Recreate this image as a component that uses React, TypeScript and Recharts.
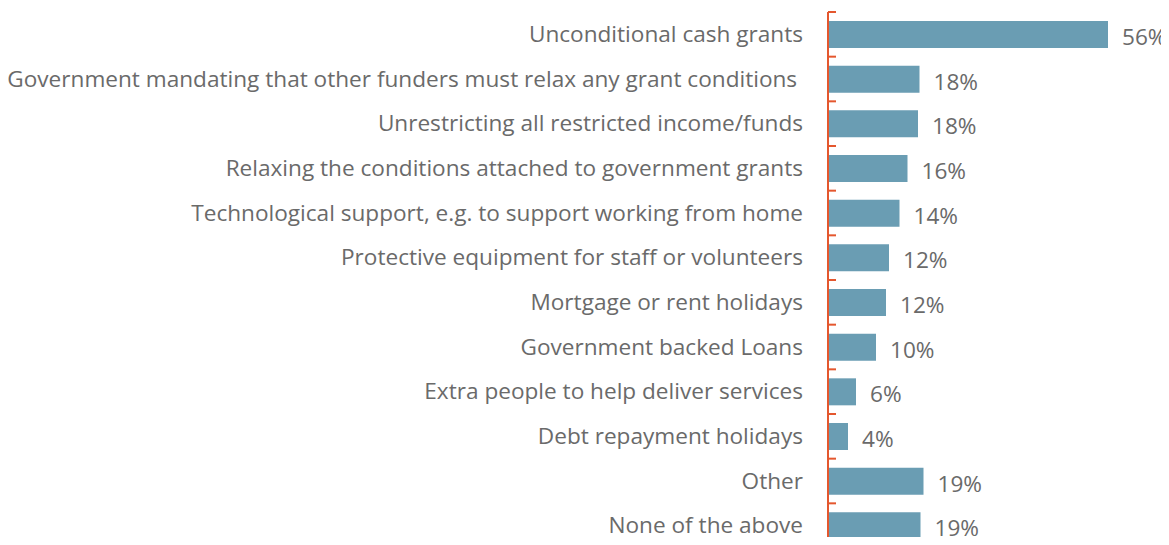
import React from 'react';
import { BarChart, Bar, XAxis, YAxis, LabelList } from 'recharts';

const categories = [
  'Unconditional cash grants',
  'Government mandating that other funders must relax any grant conditions\u00A0',
  'Unrestricting all restricted income/funds',
  'Relaxing the conditions attached to government grants',
  'Technological support, e.g. to support working from home',
  'Protective equipment for staff or volunteers',
  'Mortgage or rent holidays',
  'Government backed Loans',
  'Extra people to help deliver services',
  'Debt repayment holidays',
  'Other',
  'None of the above',
];

const values = [56, 18.3, 18.0, 15.9, 14.3, 12.2, 11.6, 9.6, 5.6, 4.0, 19.1, 18.5];

const data = categories.map((name, i) => ({ name, value: values[i] }));

const FONT = '"Open Sans", sans-serif';
const TEXT = '#6a6a6a';
const AXIS = '#e4572e';
const BAR = '#6a9db3';
const FS = 22.6;

const CatTick = (props: any) => {
  const { x, y, payload, index } = props;
  const off = payload && typeof payload.offset === 'number' ? payload.offset : 22.35;
  return (
    <g>
      <line x1={x} x2={x + 8} y1={y - off} y2={y - off} stroke={AXIS} strokeWidth={2} />
      {index === categories.length - 1 && (
        <line x1={x} x2={x + 8} y1={y + off} y2={y + off} stroke={AXIS} strokeWidth={2} />
      )}
      <text
        x={x - 25}
        y={y}
        dy={-1}
        textAnchor="end"
        dominantBaseline="central"
        fontFamily={FONT}
        fontSize={FS}
        fill={TEXT}
        style={{ whiteSpace: 'pre' }}
      >
        {payload.value}
      </text>
    </g>
  );
};

const ValueLabel = (props: any) => {
  const { x, y, width, height, value } = props;
  return (
    <text
      x={x + width + 14}
      y={y + height / 2}
      dy={2}
      textAnchor="start"
      dominantBaseline="central"
      fontFamily={FONT}
      fontSize={FS}
      fill={TEXT}
    >
      {`${Math.round(Number(value))}%`}
    </text>
  );
};

export default function App() {
  return (
    <div style={{ width: 1161, height: 537, marginBottom: -8, overflow: 'hidden', background: '#fff' }}>
      <BarChart
        width={1161}
        height={560}
        data={data}
        layout="vertical"
        margin={{ top: 4, right: 41, bottom: 20, left: 0 }}
        barSize={27}
      >
        <XAxis type="number" domain={[0, 60]} hide />
        <YAxis
          type="category"
          dataKey="name"
          width={820}
          interval={0}
          tickSize={0}
          tickMargin={0}
          tickLine={false}
          axisLine={{ stroke: AXIS, strokeWidth: 2 }}
          tick={<CatTick />}
        />
        <Bar dataKey="value" fill={BAR} isAnimationActive={false}>
          <LabelList dataKey="value" content={<ValueLabel />} />
        </Bar>
      </BarChart>
    </div>
  );
}
